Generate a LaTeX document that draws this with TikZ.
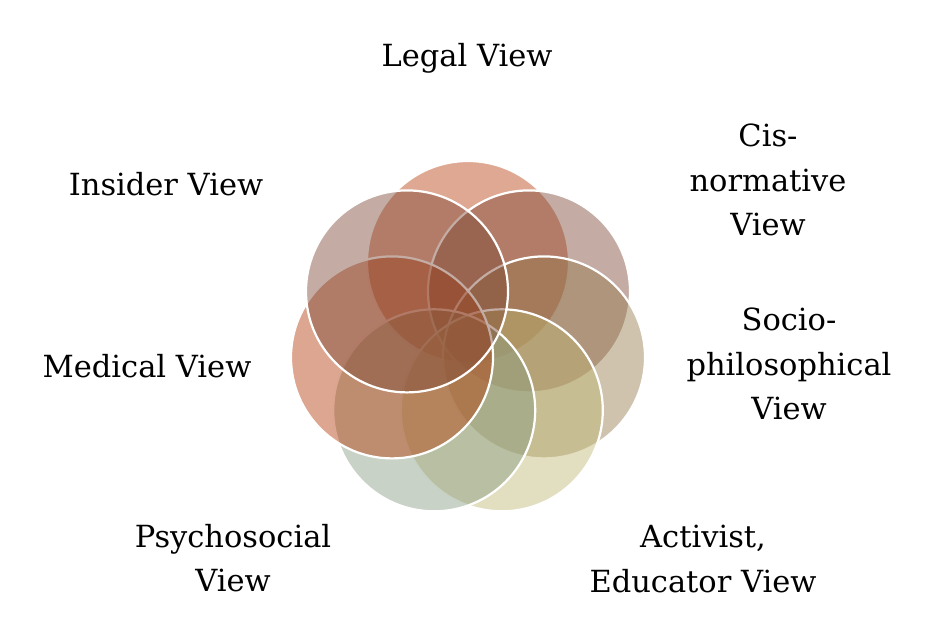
\documentclass[tikz,border=0pt]{standalone}
\usepackage{fontspec}
\setmainfont{DejaVu Serif}
\begin{document}
\begin{tikzpicture}[x=1pt,y=-1pt,
  ring/.style={draw=white,line width=2.2pt,fill opacity=0.45,draw opacity=1},
  lab/.style={font=\fontsize{30.5}{44.5}\selectfont,align=center,inner sep=0pt,text=black}]
\useasboundingbox (0,0) rectangle (939,640);
\definecolor{cLegal}{RGB}{182,62,13}
\definecolor{cCis}{RGB}{124,71,53}
\definecolor{cSocio}{RGB}{148,122,75}
\definecolor{cAct}{RGB}{191,182,115}
\definecolor{cPsy}{RGB}{135,155,128}
\definecolor{cMed}{RGB}{177,57,8}
\definecolor{cIns}{RGB}{124,71,53}
\def\R{101pt}
\path[ring,fill=cLegal] (468,262) circle[radius=\R];
\path[ring,fill=cCis] (529,291.4) circle[radius=\R];
\path[ring,fill=cSocio] (544,357.4) circle[radius=\R];
\path[ring,fill=cAct] (501.8,410.3) circle[radius=\R];
\path[ring,fill=cPsy] (434.2,410.3) circle[radius=\R];
\path[ring,fill=cMed] (392,357.4) circle[radius=\R];
\path[ring,fill=cIns] (407,291.4) circle[radius=\R];
\node[lab] (legal) at (467,58) {Legal View};
\node[lab] (cis) at (768,180) {Cis-\\normative\\View};
\node[lab] (socio) at (789,364) {Socio-\\philosophical\\View};
\node[lab] (act) at (703,559) {Activist,\\Educator View};
\node[lab] (psy) at (233,558) {Psychosocial\\View};
\node[lab] (med) at (147,366) {Medical View};
\node[lab] (ins) at (166,184) {Insider View};
\end{tikzpicture}
\end{document}
